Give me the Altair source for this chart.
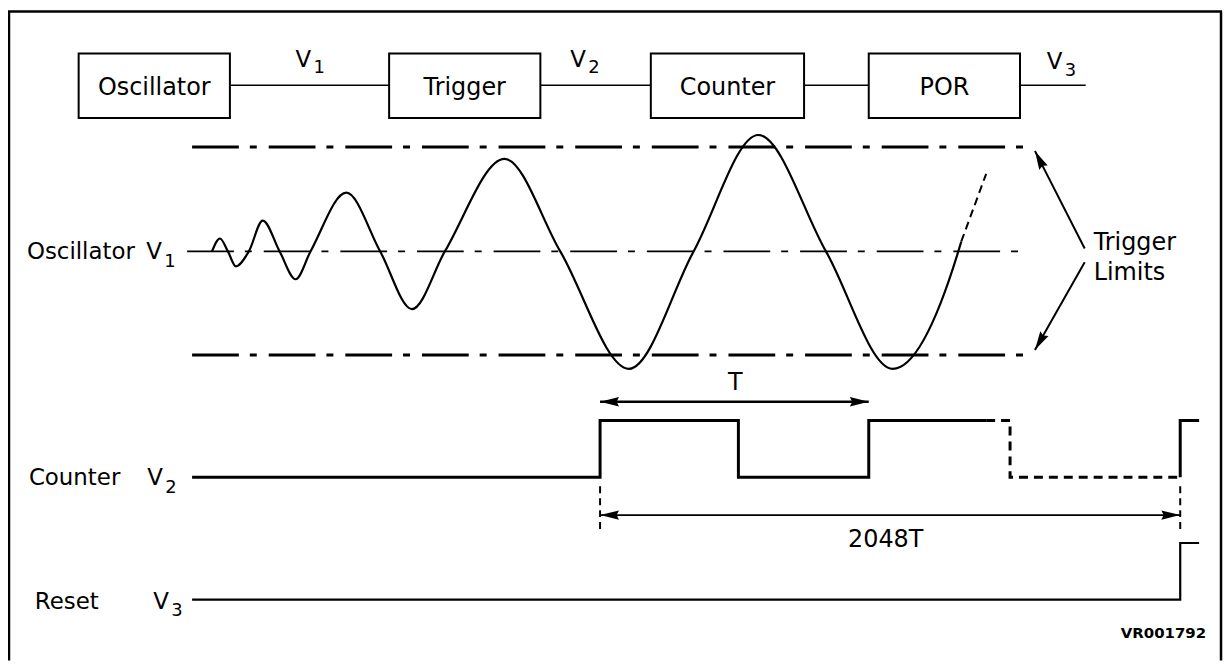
import altair as alt
import pandas as pd

FONT = "DejaVu Sans"

# ---------------- block diagram ----------------
block_names = ["Oscillator", "Trigger", "Counter", "POR"]
block_left = [79, 391, 654, 873]
block_right = [231, 543, 808, 1025]
block_top = 52
block_bottom = 117
wire_from = [231, 543, 808, 1025]
wire_to = [391, 654, 873, 1091]
wire_y = 84
top_v_x = [297, 573, 1052]
top_v_sub = ["1", "2", "3"]
top_v_base = [66, 66, 68]
top_sub_base = [72, 72, 75]

# ---------------- row labels ----------------
row_names = ["Oscillator", "Counter", "Reset"]
row_name_x = [27, 29, 35]
row_base = [259, 486, 610]
row_v_x = [147, 148, 154]
row_sub = ["1", "2", "3"]
row_sub_base = [267, 494, 617]

# ---------------- oscillator V1 ----------------
limit_levels = [146, 355]          # trigger limits (upper, lower)
mid_level = 251
wave_x = [213, 221, 229, 237, 250, 264, 281, 297, 312, 348, 382, 414, 447,
          507, 563, 632, 697, 762, 830, 897, 963, 966]
wave_y = [251, 238, 251, 266, 251, 220, 251, 279, 251, 192, 251, 309, 251,
          158, 251, 369, 251, 134, 251, 369, 251, 241]
wave_dash_x = [966, 991]
wave_dash_y = [241, 173]

# ---------------- counter V2 ----------------
v2_x = [193, 603, 603, 742, 742, 873, 873, 991]
v2_y = [478, 478, 421, 421, 478, 478, 421, 421]
v2_dash_x = [991, 1015, 1015, 1186]
v2_dash_y = [421, 421, 478, 478]
v2_end_x = [1186, 1186, 1205]
v2_end_y = [478, 421, 421]

# ---------------- reset V3 ----------------
v3_x = [193, 1186, 1186, 1205]
v3_y = [601, 601, 544, 544]

# ---------------- dimension marks ----------------
t_from, t_to, t_y = 603, 873, 402
n_from, n_to, n_y = 603, 1186, 516
ext_x = [603, 1186]
ext_y0, ext_y1 = 487, 535
trig_tail_x = [1090, 1090]
trig_tail_y = [248, 262]
trig_tip_x = [1040, 1040]
trig_tip_y = [150, 350]

xs = alt.Scale(domain=[8, 1230], nice=False, zero=False)
ys = alt.Scale(domain=[8, 662], reverse=True, nice=False, zero=False)


def X(f="x"):
    return alt.X(f"{f}:Q", scale=xs, axis=None)


def Y(f="y"):
    return alt.Y(f"{f}:Q", scale=ys, axis=None)


def enc_rule(ch):
    return ch.encode(x=X("x"), x2=alt.X2("x2:Q"), y=Y("y"), y2=alt.Y2("y2:Q"))


def poly(xv, yv):
    return pd.DataFrame({"x": xv, "y": yv, "i": list(range(len(xv)))})


def line_layer(df, width, dash=None, interp="linear"):
    kw = dict(color="black", strokeWidth=width, interpolate=interp, strokeCap="butt")
    if dash:
        kw["strokeDash"] = dash
    return alt.Chart(df).mark_line(**kw).encode(x=X(), y=Y(), order=alt.Order("i:Q"))


layers = []

# border (top, left, right)
border = pd.DataFrame({"x": [8, 9, 1227], "x2": [1228, 9, 1227],
                       "y": [10, 10, 10], "y2": [10, 662, 662]})
layers.append(enc_rule(alt.Chart(border).mark_rule(color="black", strokeWidth=2.5)))

# wires
wires = pd.DataFrame({"x": wire_from, "x2": wire_to, "y": [wire_y] * 4, "y2": [wire_y] * 4})
layers.append(enc_rule(alt.Chart(wires).mark_rule(color="black", strokeWidth=1.6)))

# boxes
boxes = pd.DataFrame({"name": block_names, "x": block_left, "x2": block_right,
                      "y": [block_top] * 4, "y2": [block_bottom] * 4})
layers.append(alt.Chart(boxes).mark_rect(fill="white", stroke="black", strokeWidth=2).encode(
    x=X("x"), x2=alt.X2("x2:Q"), y=Y("y"), y2=alt.Y2("y2:Q")))
boxes["cx"] = [(a + b) / 2 for a, b in zip(block_left, block_right)]
boxes["cy"] = (block_top + block_bottom) / 2 + 9
layers.append(alt.Chart(boxes).mark_text(font=FONT, fontSize=24, align="center",
                                         baseline="alphabetic", color="black").encode(
    x=X("cx"), y=Y("cy"), text="name:N"))

# main labels
main_txt = pd.DataFrame({
    "t": row_names + ["V"] * 3 + ["V"] * 3,
    "x": row_name_x + row_v_x + top_v_x,
    "y": row_base + row_base + top_v_base,
})
layers.append(alt.Chart(main_txt).mark_text(font=FONT, fontSize=23, align="left",
                                            baseline="alphabetic", color="black").encode(
    x=X(), y=Y(), text="t:N"))
sub_txt = pd.DataFrame({
    "t": row_sub + top_v_sub,
    "x": [v + 18 for v in row_v_x] + [v + 18 for v in top_v_x],
    "y": row_sub_base + top_sub_base,
})
layers.append(alt.Chart(sub_txt).mark_text(font=FONT, fontSize=18, align="left",
                                           baseline="alphabetic", color="black").encode(
    x=X(), y=Y(), text="t:N"))

# trigger limit lines and centre line
lim = pd.DataFrame({"x": [193, 193], "x2": [1035, 1035], "y": limit_levels, "y2": limit_levels})
layers.append(enc_rule(alt.Chart(lim).mark_rule(color="black", strokeWidth=3,
                                                strokeDash=[47, 11, 7, 12])))
mid = pd.DataFrame({"x": [188], "x2": [1035], "y": [mid_level], "y2": [mid_level]})
layers.append(enc_rule(alt.Chart(mid).mark_rule(color="black", strokeWidth=1.8,
                                                strokeDash=[47, 11, 7, 12])))

# oscillator wave
layers.append(line_layer(poly(wave_x, wave_y), 2.2, interp="monotone"))
layers.append(line_layer(poly(wave_dash_x, wave_dash_y), 2, dash=[8, 5]))

# counter and reset
layers.append(line_layer(poly(v2_x, v2_y), 3))
layers.append(line_layer(poly(v2_dash_x, v2_dash_y), 3, dash=[9, 6]))
layers.append(line_layer(poly(v2_end_x, v2_end_y), 3))
layers.append(line_layer(poly(v3_x, v3_y), 2.2))

# extension lines
ext = pd.DataFrame({"x": ext_x, "x2": ext_x, "y": [ext_y0] * 2, "y2": [ext_y1] * 2})
layers.append(enc_rule(alt.Chart(ext).mark_rule(color="black", strokeWidth=2, strokeDash=[7, 5])))

# arrow shafts
shafts = pd.DataFrame({
    "x": [t_from, n_from] + trig_tail_x,
    "x2": [t_to, n_to] + trig_tip_x,
    "y": [t_y, n_y] + trig_tail_y,
    "y2": [t_y, n_y] + trig_tip_y,
    "w": [2.5, 1.6, 2, 2],
})
layers.append(enc_rule(alt.Chart(shafts).mark_rule(color="black")).encode(
    strokeWidth=alt.StrokeWidth("w:Q", scale=None)))

# arrow heads
heads = pd.DataFrame({
    "x": [t_from, t_to, n_from, n_to] + trig_tip_x,
    "y": [t_y, t_y, n_y, n_y] + trig_tip_y,
    "a": [270, 90, 270, 90, 333, 210],
})
layers.append(alt.Chart(heads).mark_point(shape="M0,0L0.5,2L0,1.75L-0.5,2Z", filled=True,
                                          size=361, color="black", opacity=1,
                                          strokeWidth=0).encode(
    x=X(), y=Y(), angle=alt.Angle("a:Q", scale=None)))

# annotation texts
ann = pd.DataFrame({"t": ["T", "2048T"], "x": [739, 890], "y": [390, 548]})
layers.append(alt.Chart(ann).mark_text(font=FONT, fontSize=24, align="center",
                                       baseline="alphabetic", color="black").encode(
    x=X(), y=Y(), text="t:N"))
trig = pd.DataFrame({"t": ["Trigger", "Limits"], "x": [1099, 1099], "y": [250, 280]})
layers.append(alt.Chart(trig).mark_text(font=FONT, fontSize=24, align="left",
                                        baseline="alphabetic", color="black").encode(
    x=X(), y=Y(), text="t:N"))
code = pd.DataFrame({"t": ["VR001792"], "x": [1212], "y": [639]})
layers.append(alt.Chart(code).mark_text(font=FONT, fontSize=15, fontWeight="bold",
                                        align="right", baseline="alphabetic",
                                        color="black").encode(x=X(), y=Y(), text="t:N"))

chart = alt.layer(*layers).properties(
    width=1222, height=654, autosize=alt.AutoSizeParams(type="none"), padding=0,
    background="white",
).configure_view(stroke=None)

chart.save("out.html", embed_options={"renderer": "svg", "actions": False})
